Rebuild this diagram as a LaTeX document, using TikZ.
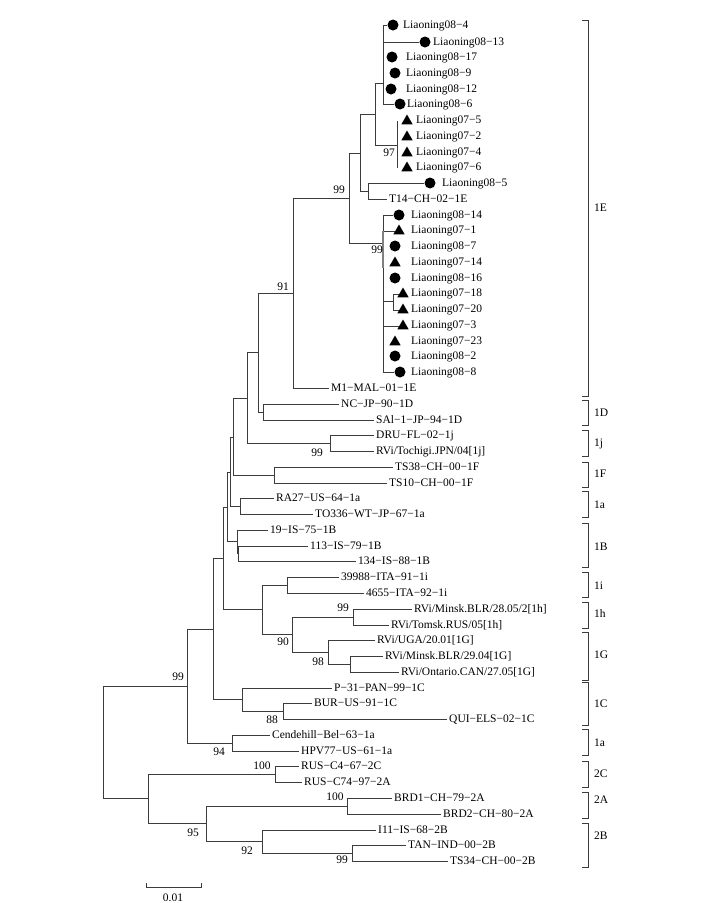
\documentclass[tikz,border=0pt]{standalone}
\usepackage{fontspec}
\setmainfont{Liberation Serif}
\usepackage{tikz}
\usetikzlibrary{shapes.geometric,positioning}
\usepackage{xcolor}
\definecolor{treegray}{RGB}{60,60,60}
\newcommand\treefont{\fontsize{11.5}{13}\selectfont}
\tikzstyle{brline} = [draw=treegray, line width=0.8pt]
\tikzstyle{leaf} = [anchor=west, inner xsep=2pt, inner ysep=0pt, text height=7.6pt, text depth=0pt, font=\treefont]
\tikzstyle{boot} = [inner sep=0pt, text height=7.6pt, text depth=0pt, font=\treefont]
\tikzstyle{grp} = [anchor=west, inner sep=0pt, text height=7.6pt, text depth=0pt, font=\treefont]
\tikzstyle{ldot} = [circle, fill=black, inner sep=0pt, minimum size=11pt]
\tikzstyle{ltri} = [regular polygon, regular polygon sides=3, fill=black, inner sep=0pt, minimum size=13pt]

\begin{document}
\begin{tikzpicture}[x=1pt, y=-1pt]
\useasboundingbox (0,0) rectangle (708,903);

% Internal nodes
\coordinate (root) at (103,742);
\coordinate (t1) at (187,686);
\coordinate (t2) at (148,798);
\coordinate (c2C) at (275,774);
\coordinate (c2AB) at (206,823);
\coordinate (c2A) at (347,806);
\coordinate (c2B) at (262,841);
\coordinate (c2Bi) at (352,853);
\coordinate (c1a2) at (232,743);
\coordinate (n213) at (213,629);
\coordinate (c1C) at (242,699);
\coordinate (c1Ci) at (283,711);
\coordinate (n223) at (223,558);
\coordinate (c1ihG) at (262,609);
\coordinate (c1i) at (287,585);
\coordinate (n292) at (292,634);
\coordinate (c1h) at (353,617);
\coordinate (c1G) at (328,652);
\coordinate (c1Gi) at (350,664);
\coordinate (n226) at (227,507);
\coordinate (c1B) at (237,541);
\coordinate (c1Bi) at (238,553);
\coordinate (n230) at (230,472);
\coordinate (c1a1) at (240,506);
\coordinate (n233) at (233,437);
\coordinate (c1F) at (274,475);
\coordinate (n247) at (247,398);
\coordinate (c1j) at (330,443);
\coordinate (n258) at (258,352);
\coordinate (c1D) at (263,412);
\coordinate (n293) at (293,293);
\coordinate (n349) at (349,198);
\coordinate (n360) at (360,153);
\coordinate (n368) at (368,191);
\coordinate (n375) at (375,114);
\coordinate (n383a) at (383,83);
\coordinate (n397) at (397,145);
\coordinate (n383b) at (383,243);
\coordinate (n393) at (393,301);

% Liaoning strains (1E)
\node[ldot] (m084) at (393,25) {};
\node[leaf] (l084) at (401,25) {Liaoning08−4};
\node[ldot] (m0813) at (425,42) {};
\node[leaf] (l0813) at (431,42) {Liaoning08−13};
\node[ldot] (m0817) at (392,57) {};
\node[leaf] (l0817) at (404,57) {Liaoning08−17};
\node[ldot] (m089) at (395,73) {};
\node[leaf] (l089) at (404,73) {Liaoning08−9};
\node[ldot] (m0812) at (391,89) {};
\node[leaf] (l0812) at (404,89) {Liaoning08−12};
\node[ldot] (m086) at (400,104) {};
\node[leaf] (l086) at (405,104) {Liaoning08−6};
\node[ltri] (m075) at (407,121) {};
\node[leaf] (l075) at (414,120) {Liaoning07−5};
\node[ltri] (m072) at (407,137) {};
\node[leaf] (l072) at (414,136) {Liaoning07−2};
\node[ltri] (m074) at (407,153) {};
\node[leaf] (l074) at (414,152) {Liaoning07−4};
\node[ltri] (m076) at (407,168) {};
\node[leaf] (l076) at (414,167) {Liaoning07−6};
\node[ldot] (m085) at (430,183) {};
\node[leaf] (l085) at (440,183) {Liaoning08−5};
\node[leaf] (t14) at (387,199) {T14−CH−02−1E};
\node[ldot] (m0814) at (399,215) {};
\node[leaf] (l0814) at (409,215) {Liaoning08−14};
\node[ltri] (m071) at (399,231) {};
\node[leaf] (l071) at (409,230) {Liaoning07−1};
\node[ldot] (m087) at (395,246) {};
\node[leaf] (l087) at (409,246) {Liaoning08−7};
\node[ltri] (m0714) at (395,263) {};
\node[leaf] (l0714) at (409,262) {Liaoning07−14};
\node[ldot] (m0816) at (395,278) {};
\node[leaf] (l0816) at (409,278) {Liaoning08−16};
\node[ltri] (m0718) at (403,294) {};
\node[leaf] (l0718) at (409,293) {Liaoning07−18};
\node[ltri] (m0720) at (403,310) {};
\node[leaf] (l0720) at (409,309) {Liaoning07−20};
\node[ltri] (m073) at (403,326) {};
\node[leaf] (l073) at (409,325) {Liaoning07−3};
\node[ltri] (m0723) at (395,342) {};
\node[leaf] (l0723) at (409,341) {Liaoning07−23};
\node[ldot] (m082) at (395,356) {};
\node[leaf] (l082) at (409,356) {Liaoning08−2};
\node[ldot] (m088) at (400,372) {};
\node[leaf] (l088) at (409,372) {Liaoning08−8};
\node[leaf] (m1) at (329,388) {M1−MAL−01−1E};

% Reference strains
\node[leaf] (nc) at (339,404) {NC−JP−90−1D};
\node[leaf] (sa1) at (374,420) {SAl−1−JP−94−1D};
\node[leaf] (dru) at (374,435) {DRU−FL−02−1j};
\node[leaf] (tochigi) at (374,451) {RVi/Tochigi.JPN/04[1j]};
\node[leaf] (ts38) at (393,467) {TS38−CH−00−1F};
\node[leaf] (ts10) at (387,483) {TS10−CH−00−1F};
\node[leaf] (ra27) at (274,498) {RA27−US−64−1a};
\node[leaf] (to336) at (313,514) {TO336−WT−JP−67−1a};
\node[leaf] (is75) at (268,530) {19−IS−75−1B};
\node[leaf] (is79) at (308,546) {113−IS−79−1B};
\node[leaf] (is88) at (356,561) {134−IS−88−1B};
\node[leaf] (ita91) at (339,577) {39988−ITA−91−1i};
\node[leaf] (ita92) at (364,593) {4655−ITA−92−1i};
\node[leaf] (minsk28) at (412,609) {RVi/Minsk.BLR/28.05/2[1h]};
\node[leaf] (tomsk) at (389,625) {RVi/Tomsk.RUS/05[1h]};
\node[leaf] (uga) at (375,640) {RVi/UGA/20.01[1G]};
\node[leaf] (minsk29) at (383,656) {RVi/Minsk.BLR/29.04[1G]};
\node[leaf] (ontario) at (399,672) {RVi/Ontario.CAN/27.05[1G]};
\node[leaf] (p31) at (332,688) {P−31−PAN−99−1C};
\node[leaf] (bur) at (312,703) {BUR−US−91−1C};
\node[leaf] (qui) at (447,719) {QUI−ELS−02−1C};
\node[leaf] (cende) at (270,735) {Cendehill−Bel−63−1a};
\node[leaf] (hpv) at (299,751) {HPV77−US−61−1a};
\node[leaf] (rusc4) at (299,766) {RUS−C4−67−2C};
\node[leaf] (rusc74) at (302,782) {RUS−C74−97−2A};
\node[leaf] (brd1) at (392,798) {BRD1−CH−79−2A};
\node[leaf] (brd2) at (441,814) {BRD2−CH−80−2A};
\node[leaf] (i11) at (376,830) {I11−IS−68−2B};
\node[leaf] (tan) at (406,845) {TAN−IND−00−2B};
\node[leaf] (ts34) at (448,861) {TS34−CH−00−2B};

% Branches
\draw[brline] (root) |- (t1);
\draw[brline] (root) |- (t2);
\draw[brline] (t2) |- (c2C);
\draw[brline] (t2) |- (c2AB);
\draw[brline] (c2C) |- (rusc4);
\draw[brline] (c2C) |- (rusc74);
\draw[brline] (c2AB) |- (c2A);
\draw[brline] (c2AB) |- (c2B);
\draw[brline] (c2A) |- (brd1);
\draw[brline] (c2A) |- (brd2);
\draw[brline] (c2B) |- (i11);
\draw[brline] (c2B) |- (c2Bi);
\draw[brline] (c2Bi) |- (tan);
\draw[brline] (c2Bi) |- (ts34);
\draw[brline] (t1) |- (n213);
\draw[brline] (t1) |- (c1a2);
\draw[brline] (c1a2) |- (cende);
\draw[brline] (c1a2) |- (hpv);
\draw[brline] (n213) |- (n223);
\draw[brline] (n213) |- (c1C);
\draw[brline] (c1C) |- (p31);
\draw[brline] (c1C) |- (c1Ci);
\draw[brline] (c1Ci) |- (bur);
\draw[brline] (c1Ci) |- (qui);
\draw[brline] (n223) |- (n226);
\draw[brline] (n223) |- (c1ihG);
\draw[brline] (c1ihG) |- (c1i);
\draw[brline] (c1ihG) |- (n292);
\draw[brline] (c1i) |- (ita91);
\draw[brline] (c1i) |- (ita92);
\draw[brline] (n292) |- (c1h);
\draw[brline] (n292) |- (c1G);
\draw[brline] (c1h) |- (minsk28);
\draw[brline] (c1h) |- (tomsk);
\draw[brline] (c1G) |- (uga);
\draw[brline] (c1G) |- (c1Gi);
\draw[brline] (c1Gi) |- (minsk29);
\draw[brline] (c1Gi) |- (ontario);
\draw[brline] (n226) |- (n230);
\draw[brline] (n226) |- (c1B);
\draw[brline] (c1B) |- (is75);
\draw[brline] (c1B) |- (c1Bi);
\draw[brline] (c1Bi) |- (is79);
\draw[brline] (c1Bi) |- (is88);
\draw[brline] (n230) |- (n233);
\draw[brline] (n230) |- (c1a1);
\draw[brline] (c1a1) |- (ra27);
\draw[brline] (c1a1) |- (to336);
\draw[brline] (n233) |- (n247);
\draw[brline] (n233) |- (c1F);
\draw[brline] (c1F) |- (ts38);
\draw[brline] (c1F) |- (ts10);
\draw[brline] (n247) |- (n258);
\draw[brline] (n247) |- (c1j);
\draw[brline] (c1j) |- (dru);
\draw[brline] (c1j) |- (tochigi);
\draw[brline] (n258) |- (n293);
\draw[brline] (n258) |- (c1D);
\draw[brline] (c1D) |- (nc);
\draw[brline] (c1D) |- (sa1);
\draw[brline] (n293) |- (n349);
\draw[brline] (n293) |- (m1);
\draw[brline] (n349) |- (n360);
\draw[brline] (n349) |- (n383b);
\draw[brline] (n360) |- (n375);
\draw[brline] (n360) |- (n368);
\draw[brline] (n368) |- (m085);
\draw[brline] (n368) |- (t14);
\draw[brline] (n375) |- (n383a);
\draw[brline] (n375) |- (n397);
\draw[brline] (n383a) |- (m084);
\draw[brline] (n383a) |- (m0813);
\draw[brline] (n383a) |- (m086);
\draw[brline] (n397 |- m075) -- (n397 |- m076);
\draw[brline] (n383b) |- (m0814);
\draw[brline] (n383b) |- (m071);
\draw[brline] (n383b) |- (n393);
\draw[brline] (n383b) |- (m073);
\draw[brline] (n383b) |- (m088);
\draw[brline] (n393) |- (m0718);
\draw[brline] (n393) |- (m0720);
\draw[brline, draw=gray, line width=1.8pt] ([yshift=12pt]n383b) -- ([yshift=-25pt]n383b);

% Bootstrap values
\node[boot] (b1) at (389,153) {97};
\node[boot] (b2) at (339,190) {99};
\node[boot] (b3) at (283,287) {91};
\node[boot] (b4) at (377,250) {99};
\node[boot] (b5) at (317,453) {99};
\node[boot] (b6) at (178,677) {99};
\node[boot] (b7) at (343,608) {99};
\node[boot] (b8) at (283,642) {90};
\node[boot] (b9) at (318,662) {98};
\node[boot] (b10) at (272,720) {88};
\node[boot] (b11) at (219,752) {94};
\node[boot] (b12) at (262,766) {100};
\node[boot] (b13) at (335,797) {100};
\node[boot] (b14) at (193,833) {95};
\node[boot] (b15) at (247,851) {92};
\node[boot] (b16) at (342,860) {99};

% Genotype brackets
\foreach \ya/\yb/\yl/\gname [count=\k] in {20/396/208/1E, 400/425/413/1D, 430/456/443/1j,
    462/487/474/1F, 491/517/505/1a, 523/567/547/1B, 572/597/586/1i, 602/628/614/1h,
    632/680/655/1G, 682/725/704/1C, 729/755/743/1a, 761/787/774/2C, 792/818/800/2A,
    823/867/836/2B}{
  \draw[brline] (582,\ya) -- (588,\ya) -- (588,\yb) -- (582,\yb);
  \node[grp] (grp\k) at (594,\yl) {\gname};
}

% Scale bar
\coordinate (sbl) at (146,887);
\coordinate (sbr) at (201,887);
\draw[brline] ([yshift=4pt]sbl) -- (sbl) -- (sbr) -- ([yshift=4pt]sbr);
\node[boot] (sblab) at (173,898) {0.01};
\end{tikzpicture}
\end{document}
